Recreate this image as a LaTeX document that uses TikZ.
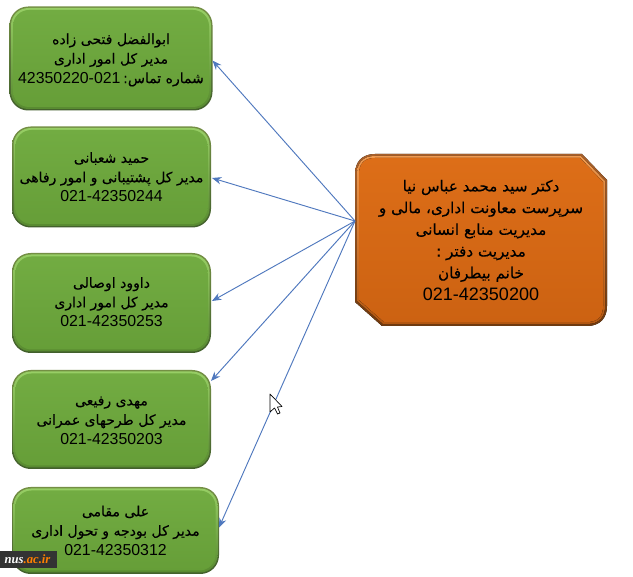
\documentclass[tikz,border=0pt]{standalone}
\usepackage{fontspec}
\setmainfont{Liberation Sans}
\newfontfamily\arabicfont[Script=Arabic,FakeBold=0.25]{DejaVu Sans}
\newfontfamily\markfont{Liberation Serif}
\TeXXeTstate=1
\usetikzlibrary{arrows.meta,calc}
\definecolor{linkblue}{HTML}{4F78BE}
\definecolor{gA}{HTML}{748F44}
\definecolor{gB}{HTML}{42602C}
\definecolor{gC}{HTML}{97CE65}
\definecolor{gD}{HTML}{588A30}
\definecolor{gE}{HTML}{72AC42}
\definecolor{gF}{HTML}{669E38}
\definecolor{oA}{HTML}{A8602A}
\definecolor{oB}{HTML}{6E3A10}
\definecolor{oC}{HTML}{F09A50}
\definecolor{oD}{HTML}{B25610}
\definecolor{oE}{HTML}{DD6E18}
\definecolor{oF}{HTML}{CC6212}
\newcommand{\fa}[1]{{\arabicfont\fontsize{\arsize}{0pt}\selectfont\beginR #1\endR}}
\newcommand{\arsize}{10.5pt}
\tikzset{
  shell/.style={inner sep=0pt,outer sep=0pt,rounded corners=14pt},
  link/.style={draw=linkblue,line width=0.7pt,-{Stealth[length=7pt,width=5.5pt]}},
  greentext/.style={align=center,font=\renewcommand{\arsize}{10.5pt}\fontsize{11.9pt}{14.6pt}\selectfont,text=black},
  maintext/.style={align=center,font=\renewcommand{\arsize}{11.4pt}\fontsize{13.5pt}{16.3pt}\selectfont,text=black}
}
\newcommand{\greenbox}[7]{%
  \node[shell,top color=gA,bottom color=gB,minimum width=#4*0.75pt,minimum height=#5*0.75pt] (#1) at (#2,#3) {};
  \node[shell,top color=gC,bottom color=gD,rounded corners=13pt,minimum width=(#4-3)*0.75pt,minimum height=(#5-3)*0.75pt] at (#2,#3) {};
  \node[shell,top color=gE,bottom color=gF,rounded corners=12pt,minimum width=(#4-7)*0.75pt,minimum height=(#5-7)*0.75pt] at (#2,#3) {};
  \node[greentext] (#1t) at ($(#2,#3)+(0,#6)$) {#7};
}
% central box outline, inset by #1 pixels
\newcommand{\mainshape}[1]{
  (355+#1,174) .. controls (355+#1,162+#1*0.5) and (362+#1*0.5,154+#1) .. (375,154+#1)
  -- (582-#1*0.5,154+#1) -- (607-#1,180+#1*0.5)
  -- (607-#1,306) .. controls (607-#1,318-#1*0.5) and (600-#1*0.5,326-#1) .. (587,326-#1)
  -- (382+#1*0.5,326-#1) -- (355+#1,302-#1*0.5) -- cycle
}
\begin{document}
\begin{tikzpicture}[x=0.75pt,y=-0.75pt]
\useasboundingbox (0,0) rectangle (633,577);
\fill[white] (0,0) rectangle (633,577);
\greenbox{ba}{111}{58.5}{203}{104}{1.5}{\fa{ابوالفضل فتحی زاده}\\\fa{مدیر کل امور اداری}\\42350220-021\,\fa{شماره تماس:}}
\greenbox{bb}{111.5}{177}{199}{101}{0}{\fa{حمید شعبانی}\\\fa{مدیر کل پشتیبانی و امور رفاهی}\\021-42350244}
\greenbox{bc}{111.5}{303}{199}{100}{-1}{\fa{داوود اوصالی}\\\fa{مدیر کل امور اداری}\\021-42350253}
\greenbox{bd}{111.5}{419.5}{199}{99}{1}{\fa{مهدی رفیعی}\\\fa{مدیر کل طرحهای عمرانی}\\021-42350203}
\greenbox{be}{115.5}{530.5}{207}{87}{0}{\fa{علی مقامی}\\\fa{مدیر کل بودجه و تحول اداری}\\021-42350312}
% central box
\fill[top color=oA,bottom color=oB] \mainshape{0};
\fill[top color=oC,bottom color=oD] \mainshape{2};
\fill[top color=oE,bottom color=oF] \mainshape{4};
\node[maintext] (mt) at (481,240) {\fa{دکتر سید محمد عباس نیا}\\\fa{سرپرست معاونت اداری، مالی و}\\\fa{مدیریت منابع انسانی}\\\fa{مدیریت دفتر :}\\\fa{خانم بیطرفان}\\021-42350200};
\coordinate (hub) at (355,221);
\coordinate (ta) at ($(ba.east)+(0,2)$);
\coordinate (tb) at ($(bb.east)+(1,1)$);
\coordinate (tc) at ($(bc.east)+(1,-2)$);
\coordinate (td) at ($(bd.east)+(0,-38.5)$);
\coordinate (te) at ($(be.east)+(0,-3)$);
\draw[link] (hub) -- (ta);
\draw[link] (hub) -- (tb);
\draw[link] (hub) -- (tc);
\draw[link] (hub) -- (td);
\draw[link] (hub) -- (te);
% pointer
\draw[black,fill=white,line width=0.5pt,line join=round] (270,394) -- (270,412) -- (274.5,408) -- (277.5,414) -- (280,413) -- (277.5,407) -- (282,406.5) -- cycle;
% watermark
\fill[black!80] (0,551) rectangle (57,568);
\node[font=\markfont\fontsize{9.5pt}{10pt}\bfseries\itshape\selectfont,inner sep=0pt] (wm) at (27.5,559.5) {\textcolor{white}{nus}\textcolor{orange}{.ac.ir}};
\end{tikzpicture}
\end{document}
